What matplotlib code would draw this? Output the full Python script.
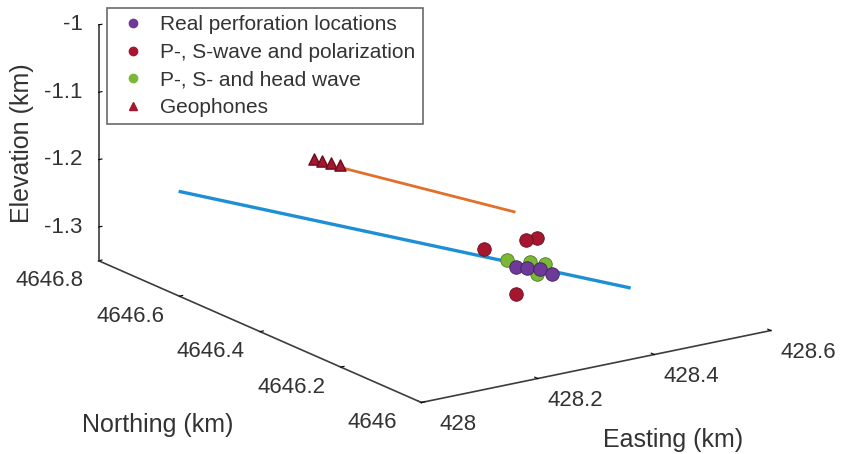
import matplotlib
matplotlib.use('Agg')
import matplotlib.pyplot as plt
from matplotlib.lines import Line2D
from matplotlib.transforms import offset_copy

plt.rcParams['font.family'] = ['Liberation Sans', 'DejaVu Sans']
plt.rcParams['axes3d.automargin'] = False

# ---------------- data (km) ----------------
easting_ticks = [428, 428.2, 428.4, 428.6]
easting_labels = ['428', '428.2', '428.4', '428.6']
northing_ticks = [4646, 4646.2, 4646.4, 4646.6, 4646.8]
northing_labels = ['4646', '4646.2', '4646.4', '4646.6', '4646.8']
elev_ticks = [-1.3, -1.2, -1.1, -1]
elev_labels = ['-1.3', '-1.2', '-1.1', '-1']

easting_lim = [428, 428.6]
northing_lim = [4646, 4646.8]
elev_lim = [-1.35, -1]

# treatment well (blue)
well1_e = [428.100, 428.369]
well1_n = [4646.742, 4646.018]
well1_z = [-1.25, -1.25]

# monitoring well (orange)
well2_e = [428.263, 428.347]
well2_n = [4646.575, 4646.271]
well2_z = [-1.2, -1.2]

# geophones
geo_e = [428.253, 428.257, 428.262, 428.268]
geo_n = [4646.632, 4646.618, 4646.603, 4646.589]
geo_z = [-1.2, -1.2, -1.2, -1.2]

# real perforation locations
perf_e = [428.293, 428.303, 428.316, 428.316]
perf_n = [4646.188, 4646.175, 4646.161, 4646.132]
perf_z = [-1.25, -1.25, -1.25, -1.25]

# P-, S-wave and polarization
pol_e = [428.285, 428.323, 428.341, 428.293]
pol_n = [4646.256, 4646.206, 4646.205, 4646.188]
pol_z = [-1.24, -1.22, -1.22, -1.29]

# P-, S- and head wave
head_e = [428.300, 428.323, 428.335, 428.299]
head_n = [4646.222, 4646.196, 4646.176, 4646.144]
head_z = [-1.25, -1.25, -1.25, -1.25]

c_perf = '#6E3A9A'
c_pol = '#A5162F'
c_head = '#7AB836'
c_blue = '#1E8FD5'
c_orange = '#E0702A'
c_axis = '#3C3C3C'
c_text = '#333333'

fig = plt.figure(figsize=(8.42, 4.54), dpi=100)
ax = fig.add_axes([0.009, 0.095, 1, 1], projection='3d')
ax.set_proj_type('ortho')
ax.view_init(elev=17.5, azim=-124.4)
ax.set_box_aspect((424, 572, 247.5), zoom=1.61)

ax.plot(well1_e, well1_n, well1_z, color=c_blue, lw=2.4, clip_on=False)
ax.plot(well2_e, well2_n, well2_z, color=c_orange, lw=2.0, clip_on=False)
ax.scatter(geo_e, geo_n, geo_z, marker='^', s=65, color=c_pol, edgecolor='#6b0d1e',
           depthshade=False, clip_on=False)
ax.scatter(pol_e, pol_n, pol_z, marker='o', s=95, color=c_pol, edgecolor='#6b0d1e',
           linewidth=0.6, depthshade=False, clip_on=False)
ax.scatter(head_e, head_n, head_z, marker='o', s=95, color=c_head, edgecolor='#4b7a20',
           linewidth=0.6, depthshade=False, clip_on=False)
ax.scatter(perf_e, perf_n, perf_z, marker='o', s=95, color=c_perf, edgecolor='#43205a',
           linewidth=0.6, depthshade=False, clip_on=False)

ax.set_xlim(easting_lim)
ax.set_ylim(northing_lim)
ax.set_zlim(elev_lim)
ax.set_xticks(easting_ticks)
ax.set_yticks(northing_ticks)
ax.set_zticks(elev_ticks)
ax.set_xticklabels([])
ax.set_yticklabels([])
ax.set_zticklabels([])

ax.grid(False)
for axis in (ax.xaxis, ax.yaxis, ax.zaxis):
    axis.set_pane_color((1, 1, 1, 0))
    axis.pane.set_edgecolor((1, 1, 1, 0))
    axis.line.set_color(c_axis)
    axis.line.set_linewidth(1.2)
    axis._axinfo['tick']['inward_factor'] = 0.0
    axis._axinfo['tick']['outward_factor'] = 0.12
    axis._axinfo['tick']['color'] = c_axis

# tick labels placed at the tick positions with a pixel offset (MATLAB-like)
def tick_text(x, y, z, s, dx, dy, ha):
    tr = offset_copy(ax.transData, fig=fig, x=dx, y=dy, units='dots')
    ax.text(x, y, z, s, transform=tr, ha=ha, va='center', fontsize=16, color=c_text,
            clip_on=False)

for v, s in zip(easting_ticks, easting_labels):
    tick_text(v, northing_lim[0], elev_lim[0], s, 37, -22, 'center')
for v, s in zip(northing_ticks, northing_labels):
    tick_text(easting_lim[0], v, elev_lim[0], s, -49, -20, 'center')
for v, s in zip(elev_ticks, elev_labels):
    tick_text(easting_lim[0], northing_lim[1], v, s, -16, 0, 'right')

fig.text(0.026, 0.685, 'Elevation (km)', rotation=90, ha='center', va='center', fontsize=18, color=c_text)
fig.text(0.187, 0.064, 'Northing (km)', ha='center', va='center', fontsize=18, color=c_text)
fig.text(0.799, 0.031, 'Easting (km)', ha='center', va='center', fontsize=18, color=c_text)

handles = [
    Line2D([], [], ls='none', marker='o', ms=6, color=c_perf),
    Line2D([], [], ls='none', marker='o', ms=6, color=c_pol),
    Line2D([], [], ls='none', marker='o', ms=6, color=c_head),
    Line2D([], [], ls='none', marker='^', ms=6, color=c_pol),
]
labels = ['Real perforation locations', 'P-, S-wave and polarization', 'P-, S- and head wave', 'Geophones']
leg = fig.legend(handles, labels, loc='upper left', bbox_to_anchor=(0.127, 0.982), fontsize=15,
                 frameon=True, fancybox=False, edgecolor='#444444', handlelength=1.8,
                 handletextpad=0.4, borderpad=0.35, labelspacing=0.41, borderaxespad=0)
leg.get_frame().set_linewidth(1.2)
for t in leg.get_texts():
    t.set_color(c_text)

fig.savefig('out.png', dpi=100)
